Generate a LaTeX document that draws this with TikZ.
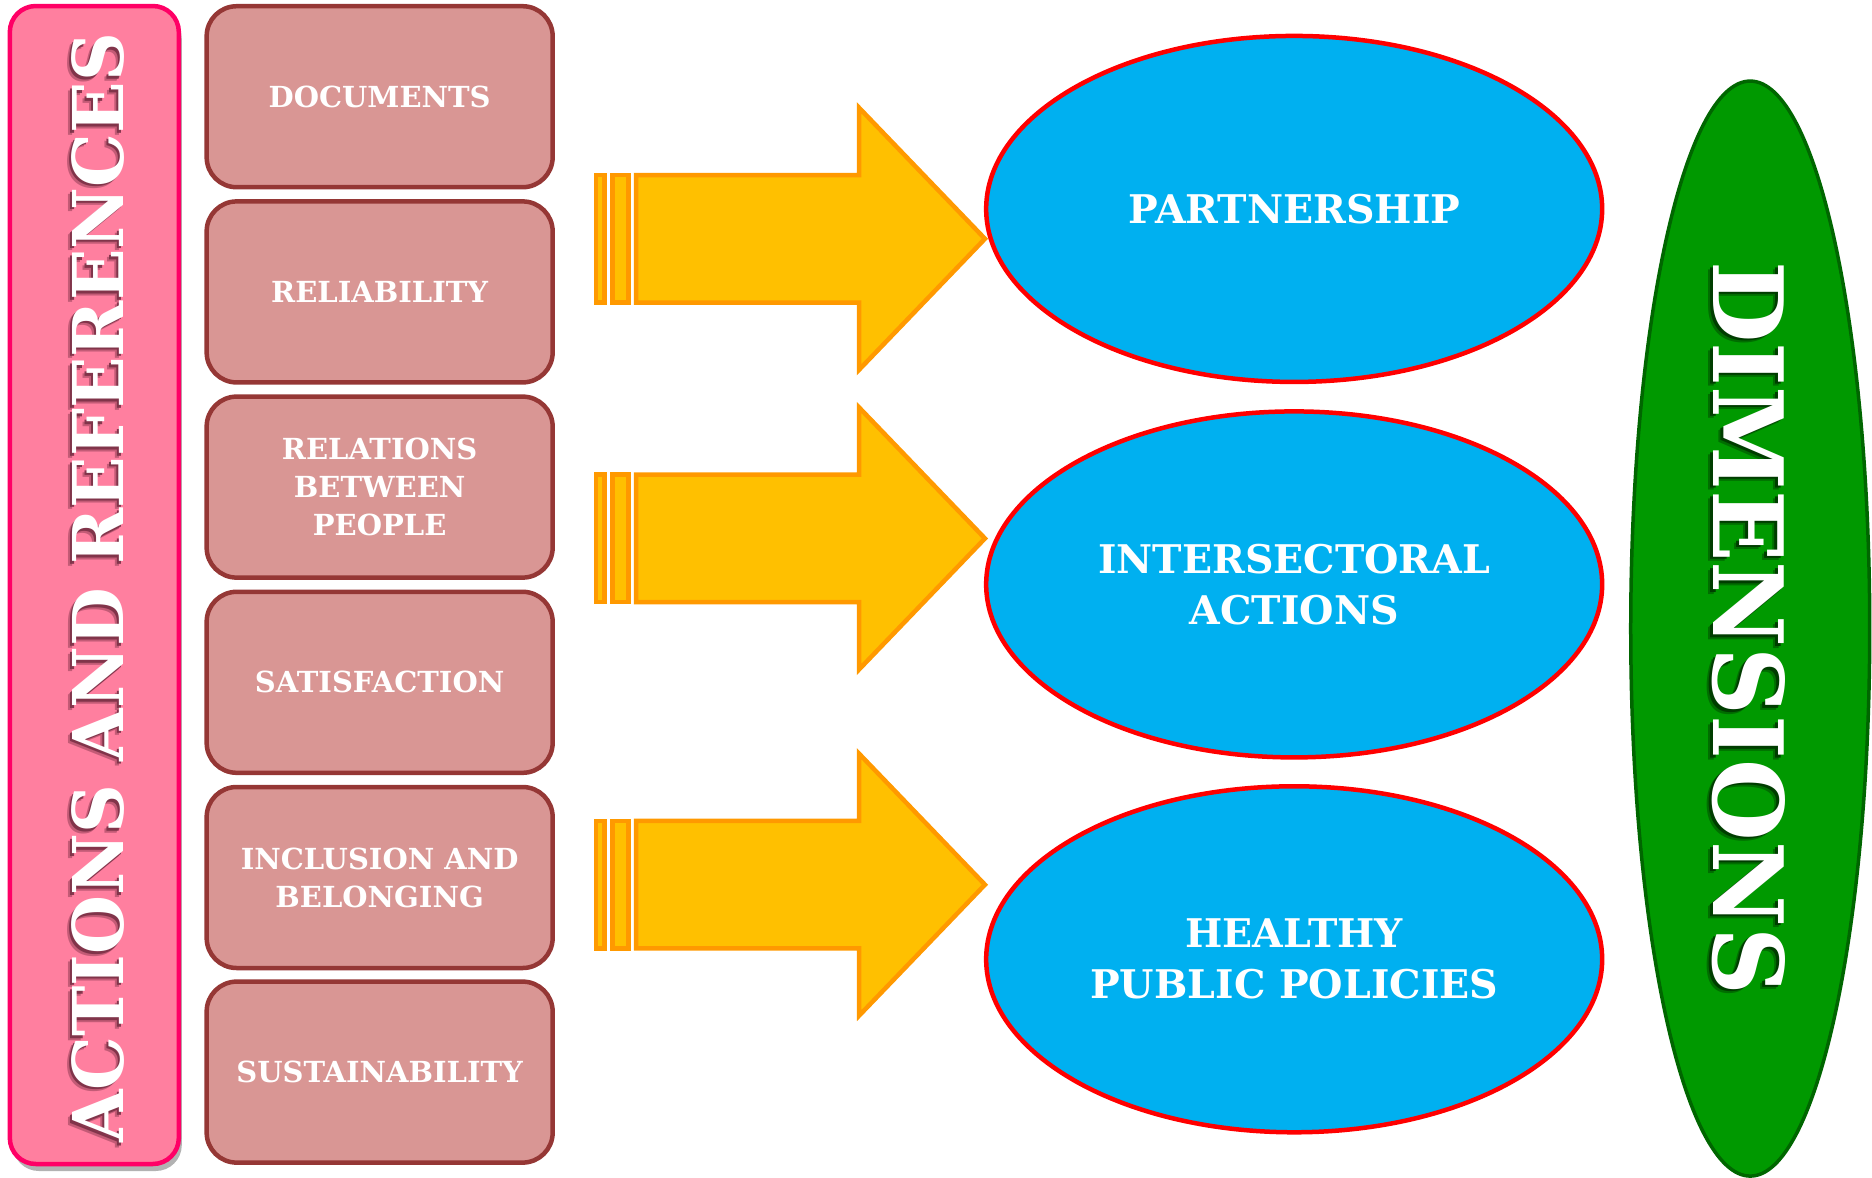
\documentclass[tikz,border=0pt]{standalone}
\usepackage{fontspec}
\setmainfont{DejaVu Serif}
\usetikzlibrary{shapes.geometric,shadows}
\definecolor{barfill}{HTML}{FF7F9F}
\definecolor{barline}{HTML}{FF0066}
\definecolor{barshadow}{HTML}{7A3046}
\definecolor{boxfill}{HTML}{D99694}
\definecolor{boxline}{HTML}{953735}
\definecolor{arrfill}{HTML}{FFC000}
\definecolor{arrline}{HTML}{FF9900}
\definecolor{ellfill}{HTML}{00B0F0}
\definecolor{ellline}{HTML}{FF0000}
\definecolor{dimfill}{HTML}{009900}
\definecolor{dimline}{HTML}{006600}
\definecolor{dimshadow}{HTML}{003800}
\begin{document}
\begin{tikzpicture}[x=1.19388pt,y=-1.19388pt,
  barbox/.style={rectangle,rounded corners=26pt,draw=barline,line width=4.5pt,fill=barfill,
    minimum width=169pt,minimum height=1158pt,inner sep=0pt,
    drop shadow={shadow xshift=3pt,shadow yshift=-7pt,fill=black,opacity=0.3}},
  bartextstyle/.style={font=\fontsize{70}{80}\selectfont\bfseries,inner sep=0pt,rotate=90,xscale=0.967},
  dimtextstyle/.style={font=\fontsize{97}{110}\selectfont\bfseries,inner sep=0pt,rotate=-90,xscale=0.968},
  itembox/.style={rectangle,rounded corners=30pt,draw=boxline,line width=4.5pt,fill=boxfill,
    minimum width=346pt,minimum height=181pt,inner sep=0pt,text=white,align=center,
    font=\fontsize{29}{38}\selectfont\bfseries},
  dimell/.style={ellipse,draw=ellline,line width=4.5pt,fill=ellfill,
    minimum width=616pt,minimum height=346pt,inner sep=0pt,text=white,align=center,
    font=\fontsize{39.5}{51}\selectfont\bfseries},
  greenell/.style={ellipse,draw=dimline,line width=3.5pt,fill=dimfill,
    minimum width=239pt,minimum height=1095pt,inner sep=0pt},
  arrpart/.style={draw=arrline,fill=arrfill,line width=4.5pt},
  bigarrow/.pic={
    \draw[arrpart] (1.4,-53.4) rectangle (8.5,53.4);
    \draw[arrpart] (14.9,-53.4) rectangle (28.6,53.4);
    \draw[arrpart] (34.9,-53.4) -- (221.6,-53.4) -- (221.6,-109.7) -- (327,0)
       -- (221.6,109.7) -- (221.6,53.4) -- (34.9,53.4) -- cycle;
  }]
\useasboundingbox (0,0) rectangle (1568,986);
% left bar
\node[barbox] (bar) at (79,490) {};
\node[bartextstyle,text=barshadow,opacity=0.45] (barsh2) at ([xshift=-4.5pt,yshift=-4.5pt]82.5,492.5) {ACTIONS AND REFERENCES};
\node[bartextstyle,text=barshadow,opacity=0.9] (barsh) at ([xshift=-2.5pt,yshift=-2.5pt]82.5,492.5) {ACTIONS AND REFERENCES};
\node[bartextstyle,text=white] (bartext) at (82.5,492.5) {ACTIONS AND REFERENCES};
% boxes
\node[itembox] (b1) at (318,81) {DOCUMENTS};
\node[itembox] (b2) at (318,244.5) {RELIABILITY};
\node[itembox] (b3) at (318,408) {RELATIONS\\BETWEEN\\PEOPLE};
\node[itembox] (b4) at (318,571.5) {SATISFACTION};
\node[itembox] (b5) at (318,735) {INCLUSION AND\\BELONGING};
\node[itembox] (b6) at (318,898) {SUSTAINABILITY};
% arrows
\pic (arr1) at (498,200) {bigarrow};
\pic (arr2) at (498,451) {bigarrow};
\pic (arr3) at (498,741) {bigarrow};
% ellipses
\node[dimell] (e1) at (1084,175) {PARTNERSHIP};
\node[dimell] (e2) at (1084,489.5) {INTERSECTORAL\\ACTIONS};
\node[dimell] (e3) at (1084,803.5) {HEALTHY\\PUBLIC POLICIES};
% dimensions
\node[greenell] (dim) at (1466,526.5) {};
\node[dimtextstyle,text=dimshadow,opacity=0.45] (dimsh2) at ([xshift=-4.5pt,yshift=-4.5pt]1464.5,526) {DIMENSIONS};
\node[dimtextstyle,text=dimshadow,opacity=0.9] (dimsh) at ([xshift=-2.5pt,yshift=-2.5pt]1464.5,526) {DIMENSIONS};
\node[dimtextstyle,text=white] (dimtext) at (1464.5,526) {DIMENSIONS};
\end{tikzpicture}
\end{document}
